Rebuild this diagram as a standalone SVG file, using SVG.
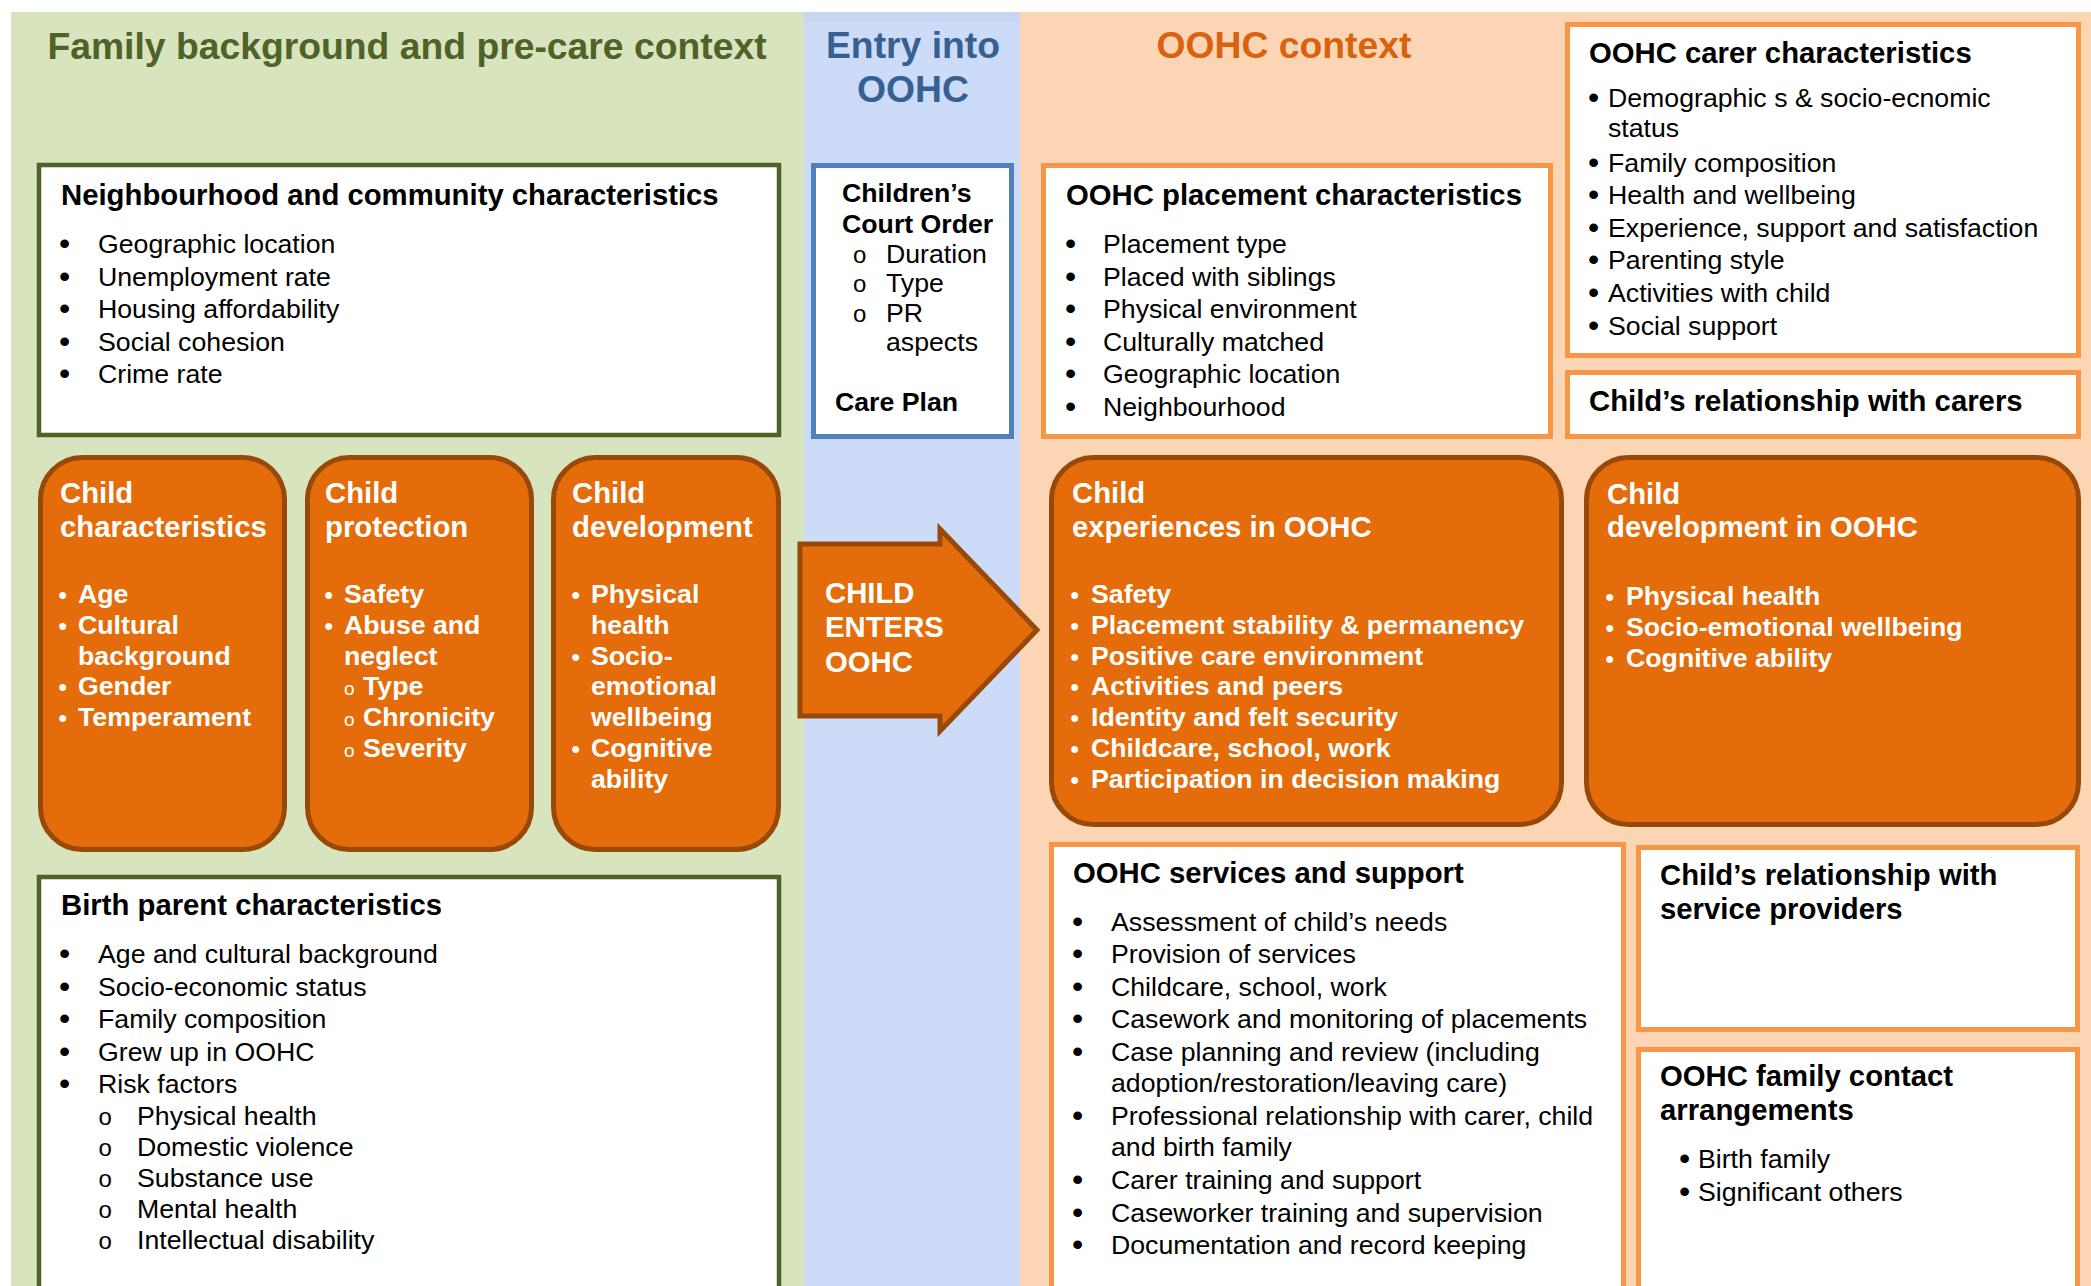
<svg xmlns="http://www.w3.org/2000/svg" width="2091" height="1286" viewBox="0 0 2091 1286">
<style>
text{font-family:"Liberation Sans",Arial,Helvetica,sans-serif;font-size:26.7px;fill:#000}
.b{font-size:32px}
.hd{font-weight:bold;font-size:29.3px}
.wb{fill:#fff;font-weight:bold}
.wh{fill:#fff;font-weight:bold;font-size:29.3px}
.sb{fill:#fff;font-weight:bold;font-size:24px}
.sc{fill:#fff;font-size:19px}
.o{font-size:24px}
.title{font-weight:bold;font-size:37.3px;text-anchor:middle}
.gbox{fill:#fff;stroke:#4f6228;stroke-width:4.5}
.bbox{fill:#fff;stroke:#4f81bd;stroke-width:5}
.obox{fill:#fff;stroke:#f79646;stroke-width:5}
.rbox{fill:#e46c0a;stroke:#984807;stroke-width:5}
</style>
<rect x="0" y="0" width="2091" height="1286" fill="#fff"/>
<g id="backgrounds">
<rect x="11" y="12" width="793" height="1274" fill="#d7e4bd"/>
<rect x="804" y="12" width="216" height="1274" fill="#ccdbf8"/>
<rect x="804" y="12" width="216" height="10" fill="#c6d6ef"/>
<rect x="1020" y="12" width="1071" height="1274" fill="#fcd5b5"/>
<text class="title" x="407" y="59" style="fill:#4f6228">Family background and pre-care context</text>
<text class="title" x="913" y="58" style="fill:#376092">Entry into</text>
<text class="title" x="913" y="102" style="fill:#376092">OOHC</text>
<text class="title" x="1284" y="58" style="fill:#d9620e">OOHC context</text>
</g>
<g id="connectors"></g>
<g id="neighbourhood">
<rect class="gbox" x="39" y="165" width="740" height="270"/>
<text class="hd" x="61" y="205">Neighbourhood and community characteristics</text>
<text class="b" x="59" y="254">•</text><text x="98" y="253">Geographic location</text>
<text class="b" x="59" y="287">•</text><text x="98" y="286">Unemployment rate</text>
<text class="b" x="59" y="319">•</text><text x="98" y="318">Housing affordability</text>
<text class="b" x="59" y="352">•</text><text x="98" y="351">Social cohesion</text>
<text class="b" x="59" y="384">•</text><text x="98" y="383">Crime rate</text>
</g>
<g id="child-characteristics">
<rect class="rbox" x="40.5" y="457.5" width="244" height="392" rx="42"/>
<text class="wh" x="60" y="503">Child</text>
<text class="wh" x="60" y="537">characteristics</text>
<text class="sb" x="58.5" y="603">•</text><text class="wb" x="78" y="603">Age</text>
<text class="sb" x="58.5" y="634">•</text><text class="wb" x="78" y="634">Cultural</text>
<text class="wb" x="78" y="665">background</text>
<text class="sb" x="58.5" y="695">•</text><text class="wb" x="78" y="695">Gender</text>
<text class="sb" x="58.5" y="726">•</text><text class="wb" x="78" y="726">Temperament</text>
</g>
<g id="child-protection">
<rect class="rbox" x="307.5" y="457.5" width="224" height="392" rx="42"/>
<text class="wh" x="325" y="503">Child</text>
<text class="wh" x="325" y="537">protection</text>
<text class="sb" x="324.5" y="603">•</text><text class="wb" x="344" y="603">Safety</text>
<text class="sb" x="324.5" y="634">•</text><text class="wb" x="344" y="634">Abuse and</text>
<text class="wb" x="344" y="665">neglect</text>
<text class="sc" x="344" y="695">o</text><text class="wb" x="363" y="695">Type</text>
<text class="sc" x="344" y="726">o</text><text class="wb" x="363" y="726">Chronicity</text>
<text class="sc" x="344" y="757">o</text><text class="wb" x="363" y="757">Severity</text>
</g>
<g id="child-development">
<rect class="rbox" x="553.5" y="457.5" width="225" height="392" rx="42"/>
<text class="wh" x="572" y="503">Child</text>
<text class="wh" x="572" y="537">development</text>
<text class="sb" x="571.5" y="603">•</text><text class="wb" x="591" y="603">Physical</text>
<text class="wb" x="591" y="634">health</text>
<text class="sb" x="571.5" y="665">•</text><text class="wb" x="591" y="665">Socio-</text>
<text class="wb" x="591" y="695">emotional</text>
<text class="wb" x="591" y="726">wellbeing</text>
<text class="sb" x="571.5" y="757">•</text><text class="wb" x="591" y="757">Cognitive</text>
<text class="wb" x="591" y="788">ability</text>
</g>
<g id="birth-parent">
<rect class="gbox" x="39" y="877" width="740" height="430"/>
<text class="hd" x="61" y="915">Birth parent characteristics</text>
<text class="b" x="59" y="964">•</text><text x="98" y="963">Age and cultural background</text>
<text class="b" x="59" y="997">•</text><text x="98" y="996">Socio-economic status</text>
<text class="b" x="59" y="1029">•</text><text x="98" y="1028">Family composition</text>
<text class="b" x="59" y="1062">•</text><text x="98" y="1061">Grew up in OOHC</text>
<text class="b" x="59" y="1094">•</text><text x="98" y="1093">Risk factors</text>
<text class="o" x="98.5" y="1125">o</text><text x="137" y="1125">Physical health</text>
<text class="o" x="98.5" y="1156">o</text><text x="137" y="1156">Domestic violence</text>
<text class="o" x="98.5" y="1187">o</text><text x="137" y="1187">Substance use</text>
<text class="o" x="98.5" y="1218">o</text><text x="137" y="1218">Mental health</text>
<text class="o" x="98.5" y="1249">o</text><text x="137" y="1249">Intellectual disability</text>
</g>
<g id="court-order">
<rect class="bbox" x="813.5" y="165.5" width="198" height="271"/>
<text class="hd" x="842" y="202" style="font-size:26.7px">Children’s</text>
<text class="hd" x="842" y="233" style="font-size:26.7px">Court Order</text>
<text class="o" x="853" y="263">o</text><text x="886" y="263">Duration</text>
<text class="o" x="853" y="292">o</text><text x="886" y="292">Type</text>
<text class="o" x="853" y="322">o</text><text x="886" y="322">PR</text>
<text x="886" y="351">aspects</text>
<text class="hd" x="835" y="411" style="font-size:26.7px">Care Plan</text>
</g>
<g id="child-enters">
<polygon class="rbox" points="800,544 940,544 940,529 1037,630 940,731 940,716 800,716"/>
<text class="wh" x="825" y="603">CHILD</text>
<text class="wh" x="825" y="637">ENTERS</text>
<text class="wh" x="825" y="672">OOHC</text>
</g>
<g id="placement">
<rect class="obox" x="1043.5" y="165.5" width="507" height="271"/>
<text class="hd" x="1066" y="205">OOHC placement characteristics</text>
<text class="b" x="1065" y="254">•</text><text x="1103" y="253">Placement type</text>
<text class="b" x="1065" y="287">•</text><text x="1103" y="286">Placed with siblings</text>
<text class="b" x="1065" y="319">•</text><text x="1103" y="318">Physical environment</text>
<text class="b" x="1065" y="352">•</text><text x="1103" y="351">Culturally matched</text>
<text class="b" x="1065" y="384">•</text><text x="1103" y="383">Geographic location</text>
<text class="b" x="1065" y="417">•</text><text x="1103" y="416">Neighbourhood</text>
</g>
<g id="carer">
<rect class="obox" x="1567.5" y="24.5" width="511" height="331"/>
<text class="hd" x="1589" y="63">OOHC carer characteristics</text>
<text class="b" x="1588" y="108">•</text><text x="1608" y="107">Demographic s &amp; socio-ecnomic</text>
<text x="1608" y="137">status</text>
<text class="b" x="1588" y="173">•</text><text x="1608" y="172">Family composition</text>
<text class="b" x="1588" y="205">•</text><text x="1608" y="204">Health and wellbeing</text>
<text class="b" x="1588" y="238">•</text><text x="1608" y="237">Experience, support and satisfaction</text>
<text class="b" x="1588" y="270">•</text><text x="1608" y="269">Parenting style</text>
<text class="b" x="1588" y="303">•</text><text x="1608" y="302">Activities with child</text>
<text class="b" x="1588" y="336">•</text><text x="1608" y="335">Social support</text>
</g>
<g id="relationship-carers">
<rect class="obox" x="1567.5" y="372.5" width="511" height="64"/>
<text class="hd" x="1589" y="411">Child’s relationship with carers</text>
</g>
<g id="child-experiences">
<rect class="rbox" x="1051.5" y="457.5" width="510" height="367" rx="42"/>
<text class="wh" x="1072" y="503">Child</text>
<text class="wh" x="1072" y="537">experiences in OOHC</text>
<text class="sb" x="1070.5" y="603">•</text><text class="wb" x="1091" y="603">Safety</text>
<text class="sb" x="1070.5" y="634">•</text><text class="wb" x="1091" y="634">Placement stability &amp; permanency</text>
<text class="sb" x="1070.5" y="665">•</text><text class="wb" x="1091" y="665">Positive care environment</text>
<text class="sb" x="1070.5" y="695">•</text><text class="wb" x="1091" y="695">Activities and peers</text>
<text class="sb" x="1070.5" y="726">•</text><text class="wb" x="1091" y="726">Identity and felt security</text>
<text class="sb" x="1070.5" y="757">•</text><text class="wb" x="1091" y="757">Childcare, school, work</text>
<text class="sb" x="1070.5" y="788">•</text><text class="wb" x="1091" y="788">Participation in decision making</text>
</g>
<g id="child-development-oohc">
<rect class="rbox" x="1586.5" y="457.5" width="492" height="367" rx="42"/>
<text class="wh" x="1607" y="504">Child</text>
<text class="wh" x="1607" y="537">development in OOHC</text>
<text class="sb" x="1605.5" y="605">•</text><text class="wb" x="1626" y="605">Physical health</text>
<text class="sb" x="1605.5" y="636">•</text><text class="wb" x="1626" y="636">Socio-emotional wellbeing</text>
<text class="sb" x="1605.5" y="667">•</text><text class="wb" x="1626" y="667">Cognitive ability</text>
</g>
<g id="services">
<rect class="obox" x="1051.5" y="844.5" width="572" height="470"/>
<text class="hd" x="1073" y="883">OOHC services and support</text>
<text class="b" x="1072" y="932">•</text><text x="1111" y="931">Assessment of child’s needs</text>
<text class="b" x="1072" y="964">•</text><text x="1111" y="963">Provision of services</text>
<text class="b" x="1072" y="997">•</text><text x="1111" y="996">Childcare, school, work</text>
<text class="b" x="1072" y="1029">•</text><text x="1111" y="1028">Casework and monitoring of placements</text>
<text class="b" x="1072" y="1062">•</text><text x="1111" y="1061">Case planning and review (including</text>
<text x="1111" y="1092">adoption/restoration/leaving care)</text>
<text class="b" x="1072" y="1126">•</text><text x="1111" y="1125">Professional relationship with carer, child</text>
<text x="1111" y="1156">and birth family</text>
<text class="b" x="1072" y="1190">•</text><text x="1111" y="1189">Carer training and support</text>
<text class="b" x="1072" y="1223">•</text><text x="1111" y="1222">Caseworker training and supervision</text>
<text class="b" x="1072" y="1255">•</text><text x="1111" y="1254">Documentation and record keeping</text>
</g>
<g id="relationship-service-providers">
<rect class="obox" x="1638.5" y="847.5" width="439" height="182"/>
<text class="hd" x="1660" y="885">Child’s relationship with</text>
<text class="hd" x="1660" y="919">service providers</text>
</g>
<g id="family-contact">
<rect class="obox" x="1638.5" y="1049.5" width="439" height="270"/>
<text class="hd" x="1660" y="1086">OOHC family contact</text>
<text class="hd" x="1660" y="1120">arrangements</text>
<text class="b" x="1679" y="1169">•</text><text x="1698" y="1168">Birth family</text>
<text class="b" x="1679" y="1202">•</text><text x="1698" y="1201">Significant others</text>
</g>
</svg>
